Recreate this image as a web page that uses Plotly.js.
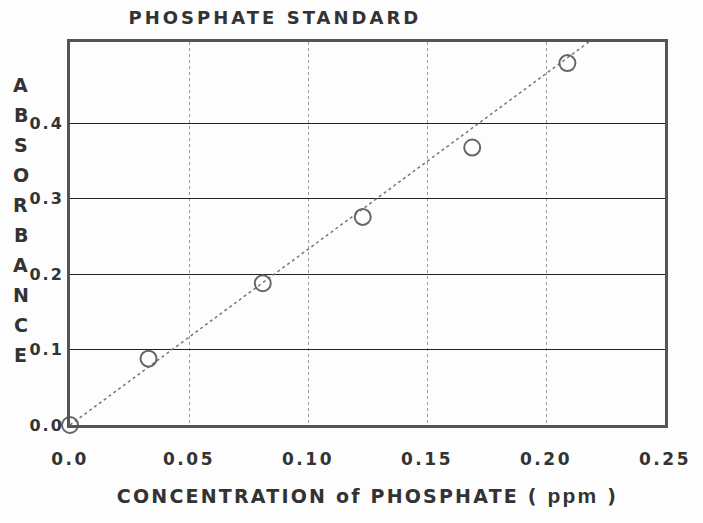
<!DOCTYPE html>
<html>
<head>
<meta charset="utf-8">
<script src="https://cdn.plot.ly/plotly-3.0.1.min.js"></script>
<style>
html,body{margin:0;padding:0;background:#fdfdfd;}
.gtitle{letter-spacing:3px;}
.xtick text{letter-spacing:2.5px;}
.ytick text{letter-spacing:2px;}
.xtitle{letter-spacing:2.2px;}
</style>
</head>
<body>
<div id="chart" style="width:703px;height:523px;"></div>
<script>
const concPpm = [0.0, 0.033, 0.081, 0.123, 0.169, 0.209];
const absorbance = [0.0, 0.088, 0.188, 0.276, 0.368, 0.480];
// Fitted line end points
const fitX = [0.0, 0.218];
const fitY = [0.0, 0.508];
const xTicks = [0, 0.05, 0.10, 0.15, 0.20, 0.25];
const xTickText = ['0.0', '0.05', '0.10', '0.15', '0.20', '0.25'];
const yTicks = [0, 0.1, 0.2, 0.3, 0.4];
const yTickText = ['0.0', '0.1', '0.2', '0.3', '0.4'];
const yTitleLetters = 'ABSORBANCE'.split('');

const FONT = 'DejaVu Sans, sans-serif';
const INK = '#333';

const traces = [
  {
    x: fitX, y: fitY, mode: 'lines', type: 'scatter',
    line: {color: '#777', width: 1.5, dash: 'dot'},
    hoverinfo: 'skip', showlegend: false
  },
  {
    x: concPpm, y: absorbance, mode: 'markers', type: 'scatter',
    marker: {symbol: 'circle-open', size: 16, color: '#666', line: {width: 2, color: '#666'}},
    showlegend: false, cliponaxis: false
  }
];

const annotations = yTitleLetters.map((ch, i) => ({
  text: '<b>' + ch + '</b>', xref: 'paper', yref: 'paper',
  x: -0.083, y: 1 - (85 - 42 + i * 30) / 383,
  xanchor: 'center', yanchor: 'middle', showarrow: false,
  font: {family: FONT, size: 19, color: INK}
}));

const layout = {
  width: 703, height: 523,
  paper_bgcolor: '#fdfdfd', plot_bgcolor: '#fdfdfd',
  margin: {l: 70, r: 38, t: 42, b: 98},
  title: {
    text: '<b>PHOSPHATE STANDARD</b>', x: 0.391, xanchor: 'center', y: 0.966, yanchor: 'middle',
    font: {family: FONT, size: 18, color: INK}
  },
  xaxis: {
    range: [0, 0.25], tickvals: xTicks, ticktext: xTickText,
    showline: true, mirror: true, linecolor: '#555', linewidth: 3,
    showgrid: true, gridcolor: '#999', griddash: 'dot', gridwidth: 1,
    zeroline: false, ticks: '', ticklabelstandoff: 17,
    tickfont: {family: FONT, size: 17, color: INK, weight: 'bold'},
    title: {text: '<b>CONCENTRATION of PHOSPHATE ( </b><span style="font-family:Liberation Sans Narrow, Liberation Sans, sans-serif;font-size:21px"><b>ppm</b></span><b> )</b>', standoff: 22,
            font: {family: FONT, size: 19, color: INK}}
  },
  yaxis: {
    range: [0, 0.508], tickvals: yTicks, ticktext: yTickText,
    showline: true, mirror: true, linecolor: '#555', linewidth: 3,
    showgrid: true, gridcolor: '#222', gridwidth: 1.3,
    zeroline: false, ticks: '', ticklabelstandoff: 0,
    tickfont: {family: FONT, size: 16, color: INK, weight: 'bold'}
  },
  annotations: annotations
};

Plotly.newPlot('chart', traces, layout, {displayModeBar: false, staticPlot: true});
</script>
</body>
</html>
